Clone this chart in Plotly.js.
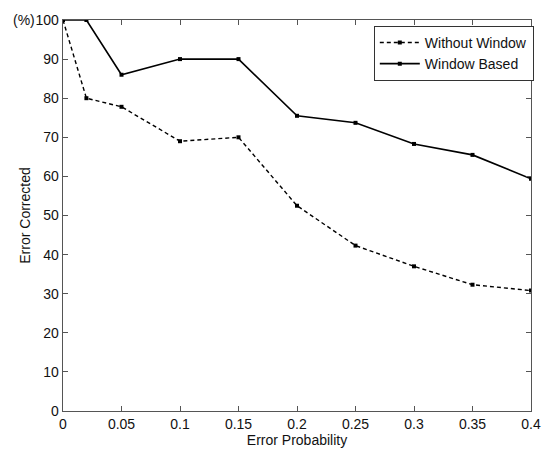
<!DOCTYPE html>
<html><head><meta charset="utf-8">
<script src="https://cdn.plot.ly/plotly-3.0.1.min.js"></script>
<style>body{margin:0;background:#fff}#c{width:548px;height:450px}</style>
</head><body><div id="c"></div>
<script>
const xValues = [0, 0.02, 0.05, 0.1, 0.15, 0.2, 0.25, 0.3, 0.35, 0.4];
const withoutWindow = [100, 80, 77.8, 69, 70, 52.5, 42.3, 37, 32.3, 30.8];
const windowBased = [100, 100, 86, 90, 90, 75.5, 73.7, 68.3, 65.5, 59.4];
const seriesNames = ["Without Window", "Window Based"];
const xTicks = [0, 0.05, 0.1, 0.15, 0.2, 0.25, 0.3, 0.35, 0.4];
const xTickText = ["0", "0.05", "0.1", "0.15", "0.2", "0.25", "0.3", "0.35", "0.4"];
const yTicks = [0, 10, 20, 30, 40, 50, 60, 70, 80, 90, 100];
const yTickText = ["0", "10", "20", "30", "40", "50", "60", "70", "80", "90", "100"];
const yUnit = "(%)";

const font = {family: "Liberation Sans, Arial, sans-serif", size: 14, color: "#111"};
const traces = [
  {x: xValues, y: withoutWindow, name: seriesNames[0], mode: "lines+markers",
   line: {color: "#000", width: 1.4, dash: "4px,3px"}, marker: {symbol: "square", size: 4, color: "#000"}},
  {x: xValues, y: windowBased, name: seriesNames[1], mode: "lines+markers",
   line: {color: "#000", width: 1.6}, marker: {symbol: "square", size: 4, color: "#000"}}
];
const axisCommon = {showgrid: false, zeroline: false, showline: true, linecolor: "#555", linewidth: 1.3,
  mirror: "allticks", ticks: "inside", ticklen: 5, tickcolor: "#555", tickfont: font, automargin: false};
const layout = {
  width: 548, height: 450, paper_bgcolor: "#fff", plot_bgcolor: "#fff",
  margin: {l: 63, r: 17, t: 20, b: 39},
  font: font, showlegend: true,
  xaxis: Object.assign({}, axisCommon, {range: [0, 0.4], tickvals: xTicks, ticktext: xTickText,
    title: {text: "Error Probability", font: font, standoff: 1}}),
  yaxis: Object.assign({}, axisCommon, {range: [0, 100], tickvals: yTicks, ticktext: yTickText,
    title: {text: "Error Corrected", font: font, standoff: 1}}),
  annotations: [{xref: "paper", yref: "y", x: 0, y: 100, text: yUnit, showarrow: false,
    xanchor: "right", yanchor: "middle", xshift: -26, font: font}],
  legend: {x: 1.006, xanchor: "right", y: 0.985, yanchor: "top", bgcolor: "#fff",
    bordercolor: "#333", borderwidth: 1, font: font,
    tracegroupgap: 0, itemwidth: 40, traceorder: "normal"}
};
Plotly.newPlot("c", traces, layout, {displayModeBar: false, staticPlot: true});
</script></body></html>
